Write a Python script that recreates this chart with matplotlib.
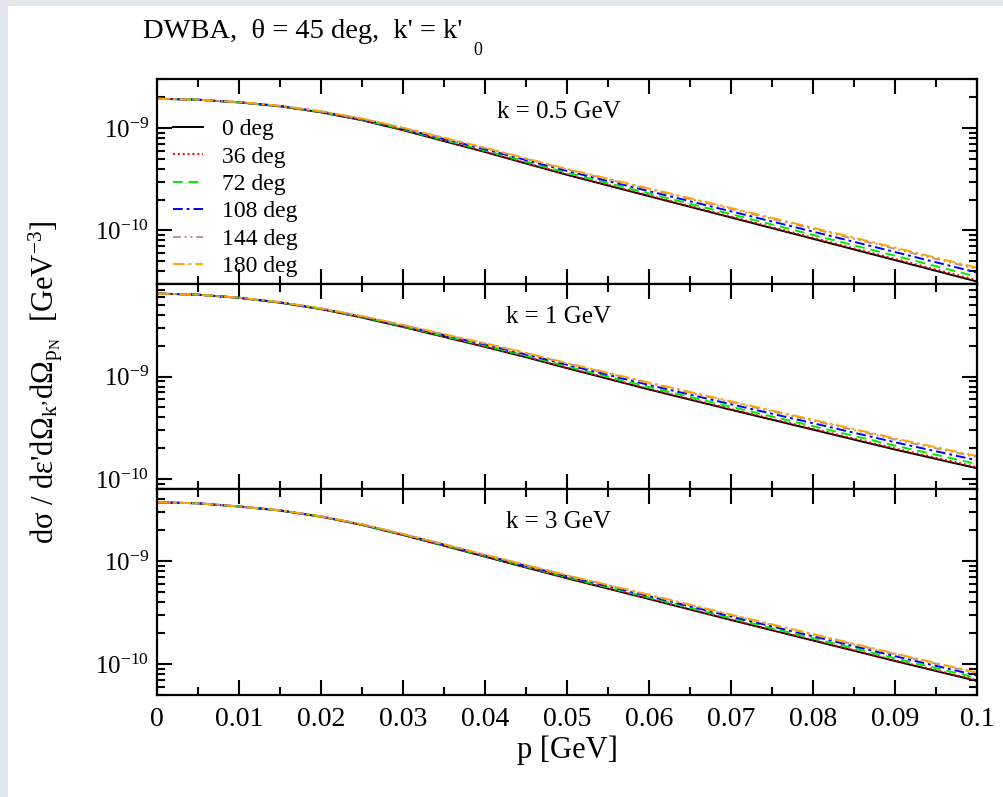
import matplotlib
matplotlib.use('Agg')
import matplotlib.pyplot as plt
from matplotlib.patches import Rectangle
from matplotlib.ticker import (MultipleLocator, FixedLocator, FixedFormatter,
                               NullFormatter, LogLocator)
import numpy as np

plt.rcParams['font.family'] = ['Liberation Serif', 'DejaVu Serif']
plt.rcParams['mathtext.fontset'] = 'custom'
plt.rcParams['mathtext.rm'] = 'Liberation Serif'
plt.rcParams['mathtext.it'] = 'Liberation Serif:italic'
plt.rcParams['mathtext.bf'] = 'Liberation Serif:bold'

# p grid [GeV]
p = [0, 0.005, 0.01, 0.015, 0.02, 0.025, 0.03, 0.035, 0.04, 0.045,
     0.05, 0.06, 0.07, 0.08, 0.09, 0.1]

angles = ['0 deg', '36 deg', '72 deg', '108 deg', '144 deg', '180 deg']
k_labels = ['k = 0.5 GeV', 'k = 1 GeV', 'k = 3 GeV']
x_ticks = [0, 0.01, 0.02, 0.03, 0.04, 0.05, 0.06, 0.07, 0.08, 0.09, 0.1]
x_ticklabels = ['0', '0.01', '0.02', '0.03', '0.04', '0.05', '0.06', '0.07',
                '0.08', '0.09', '0.1']
y_ticks = [1e-10, 1e-9]

# log10 of cross section for 0 deg
base_k05 = [-8.715, -8.725, -8.751, -8.790, -8.848, -8.925, -9.022, -9.129,
            -9.235, -9.347, -9.458, -9.666, -9.874, -10.082, -10.290, -10.499]
base_k1 = [-8.190, -8.201, -8.232, -8.279, -8.342, -8.424, -8.516, -8.613,
           -8.710, -8.811, -8.918, -9.126, -9.324, -9.518, -9.712, -9.895]
base_k3 = [-8.430, -8.440, -8.471, -8.510, -8.570, -8.650, -8.748, -8.852,
           -8.958, -9.063, -9.168, -9.369, -9.573, -9.772, -9.971, -10.165]

# shift (in decades) of the other angles above the 0 deg curve
shift_k05_36 = [0, 0, 0, 0.001, 0.001, 0.002, 0.002, 0.003, 0.004, 0.005, 0.006, 0.008, 0.009, 0.011, 0.012, 0.014]
shift_k05_72 = [0, 0, 0.001, 0.002, 0.004, 0.006, 0.008, 0.012, 0.015, 0.018, 0.020, 0.027, 0.033, 0.038, 0.043, 0.047]
shift_k05_108 = [0, 0, 0.002, 0.004, 0.007, 0.011, 0.016, 0.021, 0.027, 0.033, 0.038, 0.049, 0.060, 0.070, 0.079, 0.088]
shift_k05_144 = [0, 0, 0.003, 0.005, 0.009, 0.015, 0.022, 0.030, 0.038, 0.045, 0.052, 0.068, 0.084, 0.097, 0.110, 0.122]
shift_k05_180 = [0, 0, 0.003, 0.006, 0.010, 0.017, 0.024, 0.033, 0.042, 0.050, 0.058, 0.076, 0.093, 0.108, 0.122, 0.135]

shift_k1_36 = [0, 0, 0, 0.001, 0.001, 0.001, 0.002, 0.003, 0.004, 0.004, 0.005, 0.007, 0.008, 0.010, 0.011, 0.012]
shift_k1_72 = [0, 0, 0.001, 0.002, 0.003, 0.005, 0.007, 0.009, 0.012, 0.015, 0.018, 0.024, 0.029, 0.034, 0.038, 0.042]
shift_k1_108 = [0, 0, 0.001, 0.003, 0.005, 0.009, 0.013, 0.018, 0.023, 0.027, 0.033, 0.044, 0.054, 0.063, 0.071, 0.078]
shift_k1_144 = [0, 0, 0.002, 0.005, 0.007, 0.013, 0.018, 0.024, 0.032, 0.038, 0.045, 0.061, 0.075, 0.087, 0.098, 0.108]
shift_k1_180 = [0, 0, 0.002, 0.005, 0.008, 0.014, 0.020, 0.027, 0.035, 0.042, 0.050, 0.068, 0.083, 0.097, 0.109, 0.120]

shift_k3_36 = [0, 0, 0, 0, 0, 0.001, 0.001, 0.002, 0.002, 0.003, 0.003, 0.004, 0.005, 0.006, 0.007, 0.008]
shift_k3_72 = [0, 0, 0, 0.001, 0.001, 0.002, 0.004, 0.005, 0.007, 0.009, 0.011, 0.015, 0.019, 0.022, 0.026, 0.029]
shift_k3_108 = [0, 0, 0.001, 0.001, 0.003, 0.005, 0.007, 0.010, 0.013, 0.016, 0.020, 0.027, 0.034, 0.041, 0.047, 0.053]
shift_k3_144 = [0, 0, 0.001, 0.002, 0.004, 0.006, 0.009, 0.014, 0.018, 0.023, 0.027, 0.038, 0.048, 0.057, 0.066, 0.074]
shift_k3_180 = [0, 0, 0.001, 0.002, 0.004, 0.007, 0.010, 0.015, 0.020, 0.025, 0.030, 0.042, 0.053, 0.063, 0.073, 0.082]

panels = [
    (base_k05, [shift_k05_36, shift_k05_72, shift_k05_108, shift_k05_144, shift_k05_180], (3e-11, 3e-9)),
    (base_k1, [shift_k1_36, shift_k1_72, shift_k1_108, shift_k1_144, shift_k1_180], (8e-11, 8e-9)),
    (base_k3, [shift_k3_36, shift_k3_72, shift_k3_108, shift_k3_144, shift_k3_180], (5e-11, 5e-9)),
]

colors = ['black', '#ff0000', '#00ee00', '#0000ff', '#bc8f8f', '#ffa500']
dashes = ['-', (0, (1, 1.5)), (0, (5, 3)), (0, (5, 2, 1.5, 2)),
          (0, (4, 2, 1, 2, 1, 2)), (0, (6, 2, 1.5, 2))]

W, H = 1004, 797
fig = plt.figure(figsize=(W / 100, H / 100), dpi=100, facecolor='#e3e6ea')
fig.add_artist(Rectangle((8 / W, 0), 1, 1 - 6 / H, transform=fig.transFigure,
                         facecolor='white', edgecolor='none', zorder=-10))

left, right = 157, 977
tops = [79, 284, 489]
bottoms = [284, 489, 695]

axes = []
for i, (base, shifts, ylim) in enumerate(panels):
    ax = fig.add_axes([left / W, 1 - bottoms[i] / H, (right - left) / W,
                       (bottoms[i] - tops[i]) / H])
    axes.append(ax)
    b = np.array(base)
    ax.plot(p, 10 ** b, color=colors[0], ls=dashes[0], lw=1.4, label=angles[0])
    for j, s in enumerate(shifts):
        ax.plot(p, 10 ** (b + np.array(s)), color=colors[j + 1], ls=dashes[j + 1],
                lw=1.4, label=angles[j + 1])
    ax.set_yscale('log')
    ax.set_xlim(0, 0.1)
    ax.set_ylim(*ylim)
    ax.yaxis.set_major_locator(FixedLocator(y_ticks))
    ax.yaxis.set_minor_locator(LogLocator(base=10, subs=np.arange(2, 10)))
    ax.yaxis.set_minor_formatter(NullFormatter())
    ax.xaxis.set_major_locator(FixedLocator(x_ticks))
    ax.xaxis.set_minor_locator(MultipleLocator(0.005))
    ax.tick_params(which='both', direction='in', top=True, right=True, width=1.5)
    ax.tick_params(which='major', length=11)
    ax.tick_params(which='minor', length=5.5)
    ax.tick_params(axis='y', pad=6, labelsize=18)
    ax.tick_params(axis='x', pad=9, labelsize=20)
    for sp in ax.spines.values():
        sp.set_linewidth(1.6)
    if i < 2:
        ax.set_xticklabels([])
    else:
        ax.xaxis.set_major_formatter(FixedFormatter(x_ticklabels))
    ax.text(0.49, 0.81, k_labels[i], transform=ax.transAxes, ha='center',
            va='baseline', fontsize=18)

axes[0].legend(loc='upper left', bbox_to_anchor=(0.019, 0.807), frameon=False,
               fontsize=17, handlelength=1.3, handletextpad=0.8,
               labelspacing=0.25, borderpad=0, borderaxespad=0)

fig.text(143 / W, 1 - 37.5 / H, "DWBA,  θ = 45 deg,  k' = k'", fontsize=20.5,
         va='baseline', ha='left')
fig.text(473 / W, 1 - 55 / H, '0', fontsize=13, va='baseline', ha='left')

fig.text(567 / W, 1 - 750 / H, 'p [GeV]', fontsize=22, ha='center', va='center')
fig.text(46 / W, 1 - 382 / H,
         "dσ / dε'dΩ$_{\\mathrm{k’}}$dΩ$_{\\mathrm{p_N}}$  [GeV$^{\\mathrm{-3}}$]",
         fontsize=22, rotation=90, ha='center', va='center')

fig.savefig('out.png', dpi=100, facecolor=fig.get_facecolor())
